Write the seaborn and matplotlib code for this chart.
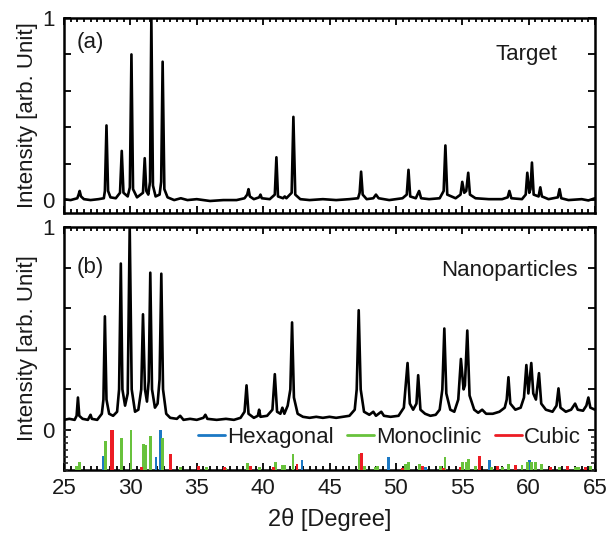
import matplotlib
matplotlib.use("Agg")
import matplotlib.pyplot as plt
from matplotlib.lines import Line2D
from matplotlib.ticker import MultipleLocator, FixedLocator
import pandas as pd
import seaborn as sns

# XRD pattern of the target (panel a): 2theta vertices and normalised intensity
target_2t = [25.0, 25.5, 26.0, 26.1, 26.18, 26.28, 26.5, 27.0, 27.6, 28.0, 28.08, 28.2, 28.32, 28.5,
             28.9, 29.22, 29.35, 29.48, 29.8, 29.96, 30.08, 30.2, 30.5, 30.95, 31.08, 31.2, 31.35,
             31.48, 31.58, 31.7, 31.9, 32.2, 32.32, 32.43, 32.56, 32.8, 33.3, 33.8, 34.3, 35.0,
             36.0, 37.0, 38.0, 38.6, 38.8, 38.9, 39.0, 39.3, 39.7, 39.8, 39.9, 40.5, 40.88, 41.0,
             41.12, 41.5, 41.63, 41.75, 42.15, 42.28, 42.42, 42.8, 43.5, 44.5, 45.5, 46.5, 47.15,
             47.27, 47.38, 47.5, 47.8, 48.3, 48.5, 48.7, 49.5, 50.5, 50.82, 50.95, 51.08, 51.5,
             51.75, 51.9, 52.5, 53.3, 53.6, 53.73, 53.87, 54.5, 54.87, 55.0, 55.15, 55.3, 55.45,
             55.58, 56.0, 57.0, 58.0, 58.42, 58.55, 58.7, 59.5, 59.78, 59.9, 60.05, 60.14, 60.25,
             60.38, 60.75, 60.88, 61.0, 61.5, 62.2, 62.33, 62.46, 63.0, 64.0, 64.5, 65.0]
target_int = [0.005, 0.0, 0.01, 0.03, 0.05, 0.02, 0.005, 0.0, 0.005, 0.01, 0.05, 0.41, 0.05, 0.015,
              0.01, 0.04, 0.27, 0.04, 0.02, 0.07, 0.80, 0.06, 0.015, 0.04, 0.23, 0.05, 0.03,
              0.1, 1.0, 0.08, 0.02, 0.03, 0.1, 0.76, 0.06, 0.015, 0.0, 0.01, 0.0, 0.005,
              -0.005, 0.0, 0.0, 0.01, 0.03, 0.06, 0.02, 0.005, 0.015, 0.03, 0.01, 0.005, 0.03, 0.235,
              0.02, 0.01, 0.02, 0.01, 0.04, 0.457, 0.03, 0.005, 0.0, 0.005, 0.0, 0.005, 0.01,
              0.04, 0.156, 0.03, 0.005, 0.01, 0.03, 0.01, 0.0, 0.01, 0.03, 0.166, 0.02, 0.01,
              0.05, 0.01, 0.005, 0.01, 0.05, 0.30, 0.03, 0.01, 0.03, 0.10, 0.04, 0.05, 0.15,
              0.03, 0.01, 0.005, 0.005, 0.015, 0.05, 0.01, 0.005, 0.03, 0.15, 0.04, 0.06, 0.206,
              0.03, 0.02, 0.07, 0.02, 0.005, 0.015, 0.06, 0.01, 0.0, 0.005, -0.002, 0.01]

# XRD pattern of the nanoparticles (panel b)
nano_2t = [25.0, 25.4, 25.8, 25.95, 26.05, 26.15, 26.4, 26.8, 27.0, 27.1, 27.5, 27.85, 27.97, 28.08,
           28.2, 28.4, 28.7, 29.0, 29.15, 29.28, 29.4, 29.6, 29.8, 29.95, 30.1, 30.35, 30.6, 30.82,
           30.95, 31.1, 31.25, 31.38, 31.5, 31.63, 31.85, 32.05, 32.2, 32.33, 32.46, 32.7, 33.0,
           33.5, 33.75, 34.0, 34.5, 35.0, 35.5, 35.65, 35.8, 36.5, 37.2, 37.8, 38.3, 38.6, 38.75,
           38.9, 39.3, 39.6, 39.7, 39.8, 40.3, 40.7, 40.88, 41.05, 41.3, 41.45, 41.6, 41.85, 42.05,
           42.18, 42.32, 42.6, 43.0, 43.5, 44.0, 44.5, 45.0, 45.5, 46.0, 46.5, 46.9, 47.05, 47.2,
           47.35, 47.6, 48.0, 48.3, 48.5, 48.9, 49.1, 49.6, 50.2, 50.6, 50.88, 51.05, 51.3, 51.55,
           51.68, 51.85, 52.2, 52.6, 53.0, 53.3, 53.5, 53.65, 53.8, 54.1, 54.4, 54.7, 54.9, 55.1,
           55.2, 55.38, 55.55, 55.9, 56.2, 56.5, 56.8, 57.3, 57.8, 58.2, 58.35, 58.48, 58.62, 59.0,
           59.4, 59.65, 59.83, 59.98, 60.2, 60.35, 60.55, 60.78, 60.95, 61.3, 61.8, 62.1, 62.25,
           62.4, 62.8, 63.2, 63.5, 63.7, 64.1, 64.35, 64.5, 64.65, 65.0]
nano_int = [0.05, 0.055, 0.05, 0.07, 0.16, 0.07, 0.055, 0.05, 0.075, 0.055, 0.05, 0.08, 0.15, 0.56,
            0.15, 0.08, 0.07, 0.09, 0.2, 0.82, 0.2, 0.12, 0.18, 1.0, 0.2, 0.09, 0.1, 0.2,
            0.57, 0.2, 0.14, 0.24, 0.775, 0.2, 0.11, 0.13, 0.25, 0.77, 0.2, 0.08, 0.06,
            0.055, 0.07, 0.05, 0.055, 0.05, 0.06, 0.075, 0.055, 0.05, 0.055, 0.05, 0.06, 0.09, 0.22,
            0.08, 0.06, 0.07, 0.1, 0.065, 0.07, 0.1, 0.275, 0.09, 0.08, 0.11, 0.08, 0.12, 0.2,
            0.53, 0.16, 0.08, 0.065, 0.06, 0.065, 0.06, 0.065, 0.06, 0.065, 0.07, 0.1, 0.2, 0.59,
            0.2, 0.09, 0.075, 0.09, 0.07, 0.09, 0.07, 0.065, 0.07, 0.11, 0.33, 0.13, 0.1, 0.13,
            0.27, 0.1, 0.08, 0.07, 0.075, 0.1, 0.2, 0.50, 0.18, 0.1, 0.09, 0.15, 0.35, 0.2,
            0.22, 0.49, 0.17, 0.1, 0.085, 0.1, 0.08, 0.08, 0.09, 0.11, 0.15, 0.26, 0.13, 0.1,
            0.11, 0.16, 0.32, 0.18, 0.33, 0.18, 0.15, 0.28, 0.13, 0.1, 0.09, 0.12, 0.205,
            0.11, 0.09, 0.1, 0.13, 0.1, 0.095, 0.12, 0.16, 0.11, 0.1]

# reference line positions (2theta) and relative intensities (%)
hex_2t = [27.95, 31.93, 32.25, 42.93, 49.43, 52.2, 57.05, 60.05]
hex_rel = [34, 32, 100, 26, 32, 7, 24, 25]
mono_2t = [25.95, 26.15, 28.1, 29.33, 30.05, 31.0, 31.12, 31.55, 32.4, 33.8, 35.75, 37.15,
           38.83, 39.75, 40.95, 41.45, 41.6, 42.25, 47.25, 47.63, 48.45, 48.6, 50.7, 50.93,
           51.75, 53.38, 53.7, 55.0, 55.3, 55.45, 56.0, 57.2, 58.05, 58.5, 59.5, 59.93, 60.25,
           60.5, 61.0, 62.3, 63.55, 63.75, 64.63]
mono_rel = [10, 21, 73, 80, 100, 64, 62, 85, 79, 8, 8, 6,
            17, 8, 21, 13, 13, 41, 41, 11, 8, 11, 15, 21,
            15, 11, 32, 21, 21, 28, 11, 8, 8, 15, 13, 20, 21,
            20, 15, 8, 8, 8, 11]
cubic_2t = [28.55, 28.65, 30.85, 33.05, 35.13, 37.08, 39.03, 40.75, 42.55, 47.43, 50.5, 52.0,
            53.6, 54.83, 56.3, 57.68, 59.0, 61.68, 62.95, 64.25]
cubic_rel = [100, 100, 7, 39, 11, 7, 11, 8, 14, 43, 5, 11,
             5, 8, 34, 11, 13, 8, 11, 8]

phases = ["Hexagonal", "Monoclinic", "Cubic"]
phase_colors = {"Hexagonal": "#1b78c4", "Monoclinic": "#68c23c", "Cubic": "#ec1c24"}

ref = pd.concat([
    pd.DataFrame({"two_theta": hex_2t, "rel": hex_rel, "phase": "Hexagonal"}),
    pd.DataFrame({"two_theta": mono_2t, "rel": mono_rel, "phase": "Monoclinic"}),
    pd.DataFrame({"two_theta": cubic_2t, "rel": cubic_rel, "phase": "Cubic"}),
], ignore_index=True)

sns.set_style("ticks")
plt.rcParams["font.family"] = ["Liberation Sans", "DejaVu Sans"]
plt.rcParams["font.size"] = 16
plt.rcParams["text.color"] = "#1a1a1a"
plt.rcParams["axes.labelcolor"] = "#1a1a1a"

fig = plt.figure(figsize=(6.06, 5.37), dpi=100)
ax_a = fig.add_axes([64 / 606, 1 - 213 / 537, 531 / 606, 195 / 537])
ax_b = fig.add_axes([64 / 606, 1 - 470 / 537, 531 / 606, 243 / 537])

sns.lineplot(x=target_2t, y=target_int, ax=ax_a, color="black", lw=1.9)
sns.lineplot(x=nano_2t, y=nano_int, ax=ax_b, color="black", lw=1.9)

ax_a.set_ylim(-0.071, 1)
ax_b.set_ylim(-0.197, 1)

for ax in (ax_a, ax_b):
    ax.set_xlim(25, 65)
    ax.xaxis.set_major_locator(MultipleLocator(5))
    ax.xaxis.set_minor_locator(MultipleLocator(0.5))
    ax.yaxis.set_major_locator(FixedLocator([0, 0.2, 0.4, 0.6, 0.8, 1.0]))
    ax.set_yticklabels(["0", "", "", "", "", "1"])
    ax.tick_params(which="both", direction="in", top=True, right=True, width=1.3,
                   colors="black", labelcolor="#1a1a1a", labelsize=16)
    ax.tick_params(axis="y", pad=7)
    ax.tick_params(axis="x", pad=6)
    ax.tick_params(which="major", length=5)
    ax.tick_params(which="minor", length=3, left=False, right=False)
    for sp in ax.spines.values():
        sp.set_linewidth(1.8)
        sp.set_color("black")
    ax.set_ylabel("Intensity [arb. Unit]", fontsize=16, labelpad=3)

ax_a.tick_params(labelbottom=False)
ax_b.set_xlabel("2θ [Degree]", fontsize=17, labelpad=6)

ax_a.text(0.024, 0.875, "(a)", transform=ax_a.transAxes, fontsize=16, va="center")
ax_a.text(0.93, 0.815, "Target", transform=ax_a.transAxes, fontsize=16, va="center", ha="right")
ax_b.text(0.024, 0.835, "(b)", transform=ax_b.transAxes, fontsize=16, va="center")
ax_b.text(0.968, 0.823, "Nanoparticles", transform=ax_b.transAxes, fontsize=16,
          va="center", ha="right")

# reference stick pattern in the lower strip of panel b
ax_r = ax_b.inset_axes([0, 0, 1, 40 / 243])
ax_r.patch.set_alpha(0)
for ph in phases:
    sub = ref[ref["phase"] == ph]
    ax_r.bar(sub["two_theta"], sub["rel"], width=0.22, color=phase_colors[ph], linewidth=0)
ax_r.set_xlim(25, 65)
ax_r.set_ylim(0, 100)
for sp in ax_r.spines.values():
    sp.set_visible(False)
ax_r.set_xticks([])
ax_r.yaxis.set_major_locator(FixedLocator([]))
ax_r.yaxis.set_minor_locator(MultipleLocator(100 / 6))
ax_r.tick_params(which="minor", direction="in", left=True, right=True, length=3, width=1.2)

handles = [Line2D([], [], color=phase_colors[ph], lw=2) for ph in phases]
ax_r.legend(handles, phases, loc="upper right", bbox_to_anchor=(0.99, 1.3), ncol=3,
            frameon=False, fontsize=16, handlelength=1.2, handletextpad=0.1,
            columnspacing=0.6, borderaxespad=0)

fig.savefig("out.png", dpi=100)
